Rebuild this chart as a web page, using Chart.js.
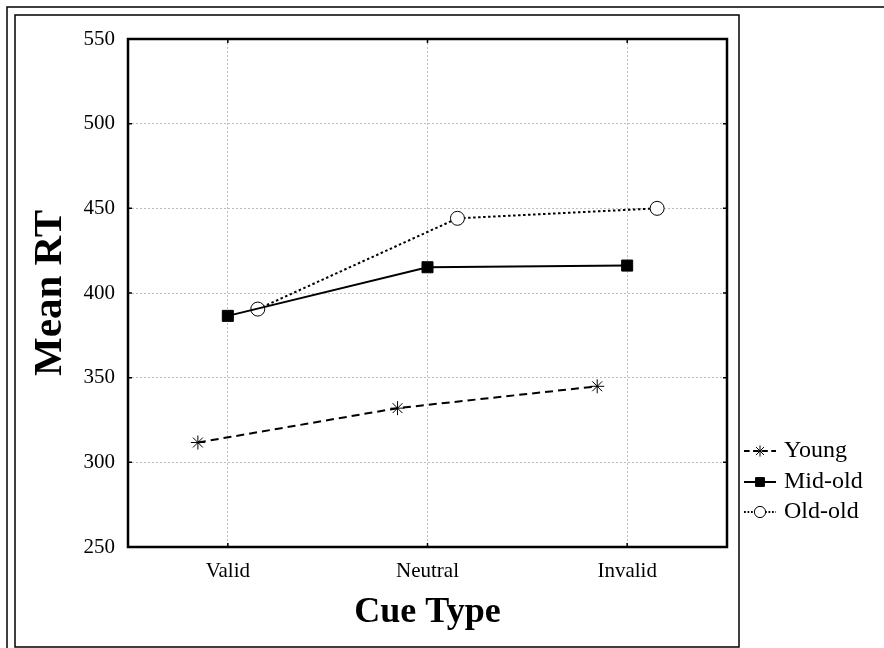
<!DOCTYPE html>
<html>
<head>
<meta charset="utf-8">
<script src="https://cdn.jsdelivr.net/npm/chart.js@4.4.1/dist/chart.umd.min.js"></script>
<style>
  html, body { margin: 0; padding: 0; background: #fff; }
</style>
</head>
<body>
<canvas id="chart" width="884" height="648"></canvas>
<script>
const cueTypes = ["Valid", "Neutral", "Invalid"];
const young = [311.7, 332, 344.9];
const midOld = [386.5, 415.2, 416.2];
const oldOld = [390.5, 444.1, 450];
const yTicks = [250, 300, 350, 400, 450, 500, 550];

// groups are drawn a little apart around each cue type
const toPoints = (vals, shift) => vals.map((v, i) => ({ x: i + 1 + shift, y: v }));

const serif = "'Liberation Serif', 'Times New Roman', serif";

// outer frames, plot box, inward ticks
const framePlugin = {
  id: 'frame',
  beforeDraw(chart) {
    const ctx = chart.ctx;
    ctx.save();
    ctx.fillStyle = '#fff';
    ctx.fillRect(0, 0, chart.width, chart.height);
    ctx.restore();
  },
  afterDraw(chart) {
    const ctx = chart.ctx, a = chart.chartArea;
    const xs = chart.scales.x, ys = chart.scales.y;
    ctx.save();
    ctx.strokeStyle = '#000';
    ctx.lineWidth = 1.5;
    ctx.beginPath();
    ctx.moveTo(7, chart.height);
    ctx.lineTo(7, 7);
    ctx.lineTo(chart.width, 7);
    ctx.stroke();
    ctx.strokeRect(15, 15, 724, 632);

    ctx.lineWidth = 2.5;
    ctx.strokeRect(a.left, a.top, a.right - a.left, a.bottom - a.top);

    ctx.lineWidth = 1.5;
    ctx.beginPath();
    cueTypes.forEach((c, i) => {
      const px = xs.getPixelForValue(i + 1);
      ctx.moveTo(px, a.bottom); ctx.lineTo(px, a.bottom - 4);
      ctx.moveTo(px, a.top); ctx.lineTo(px, a.top + 4);
    });
    yTicks.forEach(v => {
      const py = ys.getPixelForValue(v);
      ctx.moveTo(a.left, py); ctx.lineTo(a.left + 4, py);
      ctx.moveTo(a.right, py); ctx.lineTo(a.right - 4, py);
    });
    ctx.stroke();
    ctx.restore();
  }
};

// legend to the right of the frame
const legendPlugin = {
  id: 'sideLegend',
  afterDraw(chart) {
    const ctx = chart.ctx;
    const x0 = 744, x1 = 776, tx = 784;
    const rows = [451, 482, 512];
    ctx.save();
    chart.data.datasets.forEach((ds, i) => {
      const y = rows[i];
      ctx.strokeStyle = '#000';
      ctx.lineWidth = ds.borderWidth;
      ctx.setLineDash(ds.borderDash.length ? ds.borderDash.map(d => d * 0.7) : []);
      ctx.beginPath();
      ctx.moveTo(x0, y); ctx.lineTo(x1, y);
      ctx.stroke();
      ctx.setLineDash([]);
      ctx.lineWidth = ds.pointBorderWidth;
      ctx.fillStyle = ds.pointBackgroundColor;
      ctx.strokeStyle = ds.pointBorderColor;
      Chart.helpers.drawPoint(ctx, {
        pointStyle: ds.pointStyle,
        radius: ds.pointRadius * 0.8,
        borderWidth: ds.pointBorderWidth
      }, (x0 + x1) / 2, y);
      ctx.fillStyle = '#000';
      ctx.font = "24px " + serif;
      ctx.textBaseline = 'middle';
      ctx.textAlign = 'left';
      ctx.fillText(ds.label, tx, y);
    });
    ctx.restore();
  }
};

new Chart(document.getElementById('chart'), {
  type: 'line',
  data: {
    datasets: [
      {
        label: 'Young',
        data: toPoints(young, -0.15),
        borderColor: '#000',
        borderWidth: 2,
        borderDash: [8, 5],
        pointStyle: 'star',
        pointRadius: 7,
        pointBorderWidth: 1,
        pointBorderColor: '#000',
        pointBackgroundColor: '#fff'
      },
      {
        label: 'Mid-old',
        data: toPoints(midOld, 0),
        borderColor: '#000',
        borderWidth: 2,
        borderDash: [],
        pointStyle: 'rect',
        pointRadius: 7.8,
        pointBorderWidth: 1,
        pointBorderColor: '#000',
        pointBackgroundColor: '#000'
      },
      {
        label: 'Old-old',
        data: toPoints(oldOld, 0.15),
        borderColor: '#000',
        borderWidth: 2,
        borderDash: [2.5, 2.5],
        pointStyle: 'circle',
        pointRadius: 7,
        pointBorderWidth: 1,
        pointBorderColor: '#000',
        pointBackgroundColor: '#fff'
      }
    ]
  },
  options: {
    responsive: false,
    animation: false,
    layout: { padding: { left: 0, top: 39, right: 157, bottom: 0 } },
    plugins: {
      legend: { display: false },
      tooltip: { enabled: false }
    },
    elements: { line: { tension: 0 } },
    scales: {
      x: {
        type: 'linear',
        min: 0.5,
        max: 3.5,
        afterBuildTicks: s => { s.ticks = cueTypes.map((c, i) => ({ value: i + 1 })); },
        afterFit: s => { s.height = 101; },
        border: { display: false, dash: [2, 2] },
        grid: { color: '#bdbdbd', tickLength: 0, lineWidth: 1 },
        ticks: {
          color: '#000',
          padding: 12,
          font: { family: serif, size: 21 },
          callback: v => cueTypes[v - 1]
        },
        title: {
          display: true,
          text: 'Cue Type',
          color: '#000',
          font: { family: serif, size: 36, weight: 'bold', lineHeight: 1.2 },
          padding: { top: 0, bottom: 14 }
        }
      },
      y: {
        min: 250,
        max: 550,
        afterBuildTicks: s => { s.ticks = yTicks.map(v => ({ value: v })); },
        afterFit: s => { s.width = 128; },
        border: { display: false, dash: [2, 2] },
        grid: { color: '#bdbdbd', tickLength: 0, lineWidth: 1 },
        ticks: {
          color: '#000',
          padding: 13,
          font: { family: serif, size: 21 }
        },
        title: {
          display: true,
          text: 'Mean RT',
          color: '#000',
          font: { family: serif, size: 41, weight: 'bold', lineHeight: 1.2 },
          padding: { top: 26, bottom: 0 }
        }
      }
    }
  },
  plugins: [framePlugin, legendPlugin]
});
</script>
</body>
</html>
